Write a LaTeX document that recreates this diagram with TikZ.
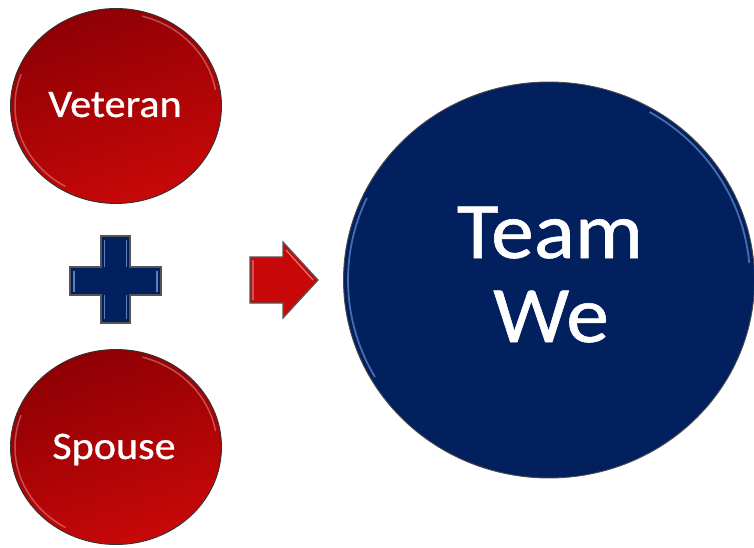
\documentclass[tikz,border=0pt]{standalone}
\usepackage{fontspec}
\setmainfont{Carlito}
\newfontfamily\heavyfont[FakeBold=0.7]{Carlito}
\usetikzlibrary{shapes.geometric}
\definecolor{redtop}{HTML}{8E0004}
\definecolor{redbot}{HTML}{C80808}
\definecolor{navy}{HTML}{02205E}
\definecolor{bevelblue}{HTML}{5A7EC0}
\definecolor{edgegray}{HTML}{555555}
\tikzset{
  redball/.style={ellipse, draw=black!80, line width=0.9pt, inner sep=0pt,
    minimum width=211pt, minimum height=195pt,
    top color=redtop, bottom color=redbot, shading angle=20},
  blueball/.style={ellipse, draw=black!70, line width=0.9pt, inner sep=0pt,
    minimum width=411pt, minimum height=396pt, fill=navy},
  smalltext/.style={text=white, anchor=base, font=\heavyfont\fontsize{39}{40}\selectfont},
  bigtext/.style={text=white, anchor=base, font=\heavyfont\fontsize{80}{84}\selectfont},
  shapeedge/.style={draw=edgegray, line width=1.2pt, line join=miter},
  redbevel/.style={white, opacity=0.3, line width=1.5pt},
}
\begin{document}
\begin{tikzpicture}[x=1pt,y=-1pt]
\useasboundingbox (0,0) rectangle (754,548);
\fill[white] (0,0) rectangle (754,548);
% circles
\node[redball] (vet) at (116,106) {};
\node[redball] (spo) at (116,447) {};
\node[blueball] (team) at (549,280) {};
\node[smalltext] (vettext) at (115,117) {\scalebox{1.08}[1]{Veteran}};
\node[smalltext] (spotext) at (114,459) {\scalebox{1.08}[1]{Spouse}};
\node[bigtext] (teamtext) at (550,258) {\scalebox{1.07}[1]{Team}};
\node[bigtext] (wetext) at (551,342) {\scalebox{1.07}[1]{We}};
% bevel highlights
\draw[redbevel] (vet.center) ++(200:101 and 93) arc[start angle=200, end angle=120, x radius=101, y radius=93];
\draw[redbevel] (vet.center) ++(-10:101 and 93) arc[start angle=-10, end angle=-75, x radius=101, y radius=93];
\draw[redbevel] (spo.center) ++(200:101 and 93) arc[start angle=200, end angle=120, x radius=101, y radius=93];
\draw[redbevel] (spo.center) ++(-10:101 and 93) arc[start angle=-10, end angle=-75, x radius=101, y radius=93];
\draw[bevelblue, opacity=0.8, line width=1.8pt] (team.center) ++(205:201 and 194) arc[start angle=205, end angle=150, x radius=201, y radius=194];
\draw[bevelblue, opacity=0.8, line width=1.8pt] (team.center) ++(-5:201 and 194) arc[start angle=-5, end angle=-60, x radius=201, y radius=194];
% plus
\path[shapeedge, fill=navy] (101,236) -- (130,236) -- (130,267) -- (161,267) -- (161,295) -- (130,295) -- (130,323) -- (101,323) -- (101,295) -- (70,295) -- (70,267) -- (101,267) -- cycle;
\draw[bevelblue, line width=1.4pt] (104.5,240) -- (104.5,267) (126.5,240) -- (126.5,267) (104.5,295) -- (104.5,319) (126.5,295) -- (126.5,319) (74,270.5) -- (74,291.5) (157,270.5) -- (157,291.5);
% arrow
\path[shapeedge, fill=redbot] (250,257) -- (283,257) -- (283,242) -- (318,280) -- (283,318) -- (283,303) -- (250,303) -- cycle;
\draw[white, opacity=0.45, line width=1.2pt] (286,250) -- (313,280) (253,260) -- (253,300);
\end{tikzpicture}
\end{document}
